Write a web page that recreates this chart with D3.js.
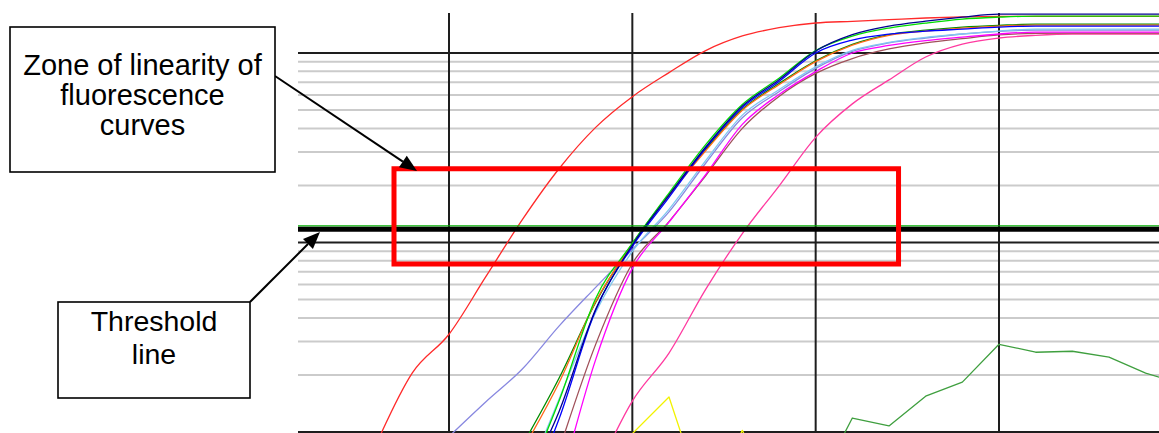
<!DOCTYPE html>
<html>
<head>
<meta charset="utf-8">
<script src="https://cdn.jsdelivr.net/npm/d3@7"></script>
<style>
  html, body { margin: 0; padding: 0; background: #fff; }
  svg { display: block; }
  text { font-family: "Liberation Sans", Arial, sans-serif; }
</style>
</head>
<body>
<svg id="chart" width="1159" height="433"></svg>
<script>
// ---------- DATA ----------
const cycles = [6,7,8,9,10,11,12,13,14,15,16,17,18,19,20,21,22,23,24,25,26,27,28,29,30];
const gridCycles = [10, 15, 20, 25];
const decadeTicks = [0.01, 0.1, 1];
const minorTicks = [0.02,0.03,0.04,0.05,0.06,0.07,0.08,0.09,0.2,0.3,0.4,0.5,0.6,0.7,0.8,0.9];
const thresholdValue = 0.1175;
const zoneCycles = [8.5, 22.26];
const zoneValues = [0.077, 0.245];

const _ = null;
const redSample      = [_,_,0.0085,0.0205,0.0328,0.0658,0.132,0.245,0.405,0.588,0.788,1.03,1.23,1.36,1.44,1.47,1.50,1.53,1.55,1.56,1.56,1.56,1.56,1.56,1.56];
const lavenderSample = [_,_,_,_,0.00946,0.0144,0.0215,0.0362,0.058,0.092,0.145,0.262,0.455,0.625,0.83,1.02,1.13,1.2,1.26,1.30,1.32,1.32,1.32,1.32,1.32];
const greenSample    = [_,_,_,_,_,_,0.005,0.01456,0.0507,0.0988,0.1824,0.3287,0.535,0.735,1.03,1.228,1.354,1.438,1.51,1.546,1.566,1.566,1.566,1.566,1.566];
const navySample     = [_,_,_,_,_,_,0.005,0.0128,0.0444,0.097,0.1776,0.319,0.525,0.723,1.025,1.25,1.387,1.473,1.546,1.604,1.604,1.604,1.604,1.604,1.604];
const blueSample     = [_,_,_,_,_,_,0.004,0.0117,0.0439,0.0952,0.173,0.314,0.515,0.708,1.0,1.17,1.259,1.305,1.337,1.37,1.387,1.387,1.387,1.387,1.387];
const orangeSample   = [_,_,_,_,_,_,0.008,0.0182,0.0488,0.098,0.177,0.305,0.499,0.680,0.900,1.099,1.239,1.305,1.354,1.387,1.404,1.404,1.404,1.404,1.404];
const darkGreenSample= [_,_,_,_,_,_,0.0085,0.0192,0.0483,0.099,0.179,0.31,0.505,0.69,0.91,1.11,1.25,1.32,1.37,1.40,1.42,1.42,1.42,1.42,1.42];
const lightBlueSample= [_,_,_,_,_,_,0.005,0.0149,0.0428,0.0897,0.1497,0.2705,0.470,0.64,0.845,1.033,1.137,1.21,1.26,1.305,1.337,1.337,1.337,1.337,1.337];
const magentaSample  = [_,_,_,_,_,_,_,0.005,0.0241,0.073,0.128,0.228,0.42,0.604,0.798,1.0,1.096,1.163,1.213,1.26,1.29,1.29,1.29,1.29,1.29];
const brownSample    = [_,_,_,_,_,_,_,0.008,0.029,0.0775,0.129,0.225,0.40,0.59,0.78,0.935,1.05,1.13,1.19,1.245,1.27,1.274,1.274,1.274,1.274];
const pinkSample     = [_,_,_,_,_,_,_,_,0.006,0.01456,0.0261,0.0566,0.1115,0.1986,0.359,0.539,0.721,0.953,1.115,1.20,1.24,1.26,1.26,1.26,1.26];
const yellowSample   = [_,_,_,_,_,_,_,_,_,0.0098,0.0153,0.004,0.0102,0.004,_,_,_,_,_,_,_,_,_,_,_];
const noiseSample    = [_,_,_,_,_,_,_,_,_,_,_,_,_,_,0.005,0.01185,0.01076,0.01546,0.01833,0.02904,0.02636,0.02668,0.02483,0.02046,0.0179];

const series = [
  { name: "red",       values: redSample,       color: "#ff2a2a", smooth: true },
  { name: "lavender",  values: lavenderSample,  color: "#8888e0", smooth: true },
  { name: "yellow",    values: yellowSample,    color: "#f2f200", smooth: false },
  { name: "noise",     values: noiseSample,     color: "#3f9f3f", smooth: false },
  { name: "pink",      values: pinkSample,      color: "#ff3aa0", smooth: true },
  { name: "brown",     values: brownSample,     color: "#a0505a", smooth: true },
  { name: "magenta",   values: magentaSample,   color: "#ff00ff", smooth: true },
  { name: "lightblue", values: lightBlueSample, color: "#80c8f0", smooth: true },
  { name: "darkgreen", values: darkGreenSample, color: "#008c00", smooth: true },
  { name: "orange",    values: orangeSample,    color: "#ff6a1a", smooth: true },
  { name: "blue",      values: blueSample,      color: "#0000ff", smooth: true },
  { name: "green",     values: greenSample,     color: "#00dd00", smooth: true },
  { name: "navy",      values: navySample,      color: "#000090", smooth: true }
];

// ---------- LAYOUT ----------
const W = 1159, H = 433;
const plot = { left: 298, right: 1159, top: 13, bottom: 432 };

const x = d3.scaleLinear().domain([10, 25]).range([449, 999]);
const y = d3.scaleLog().domain([0.01, 1]).range([432, 53]);

const svg = d3.select("#chart");

svg.append("defs").append("clipPath").attr("id", "plotClip")
  .append("rect")
  .attr("x", plot.left).attr("y", 0)
  .attr("width", plot.right - plot.left).attr("height", plot.bottom + 1);

// grid: minor (grey)
const grid = svg.append("g");
grid.selectAll("line.minor").data(minorTicks).join("line")
  .attr("class", "minor")
  .attr("x1", plot.left).attr("x2", plot.right)
  .attr("y1", d => y(d)).attr("y2", d => y(d))
  .attr("stroke", "#cbcbcb").attr("stroke-width", 2);

// grid: decades (black)
grid.selectAll("line.major").data(decadeTicks).join("line")
  .attr("class", "major")
  .attr("x1", plot.left).attr("x2", plot.right)
  .attr("y1", d => y(d)).attr("y2", d => y(d))
  .attr("stroke", "#1e1e1e").attr("stroke-width", 2);

// vertical grid
grid.selectAll("line.vert").data(gridCycles).join("line")
  .attr("class", "vert")
  .attr("x1", d => x(d)).attr("x2", d => x(d))
  .attr("y1", plot.top).attr("y2", plot.bottom)
  .attr("stroke", "#1e1e1e").attr("stroke-width", 2);

// curves
const smoothLine = d3.line()
  .defined(d => d.v != null)
  .x(d => x(d.c))
  .y(d => y(d.v))
  .curve(d3.curveMonotoneX);
const straightLine = d3.line()
  .defined(d => d.v != null)
  .x(d => x(d.c))
  .y(d => y(d.v));

const curves = svg.append("g").attr("clip-path", "url(#plotClip)");
curves.selectAll("path").data(series).join("path")
  .attr("d", s => (s.smooth ? smoothLine : straightLine)(cycles.map((c, i) => ({ c, v: s.values[i] }))))
  .attr("fill", "none")
  .attr("stroke", s => s.color)
  .attr("stroke-width", 1.3)
  .attr("stroke-linejoin", "round");

// threshold line (software green line + thick black annotation line)
const ty = y(thresholdValue);
svg.append("line")
  .attr("x1", plot.left).attr("x2", plot.right)
  .attr("y1", ty - 3.3).attr("y2", ty - 3.3)
  .attr("stroke", "#00b000").attr("stroke-width", 1.2);
svg.append("line")
  .attr("x1", plot.left).attr("x2", plot.right)
  .attr("y1", ty).attr("y2", ty)
  .attr("stroke", "#000").attr("stroke-width", 5);

// zone of linearity rectangle
svg.append("rect")
  .attr("x", x(zoneCycles[0]))
  .attr("y", y(zoneValues[1]))
  .attr("width", x(zoneCycles[1]) - x(zoneCycles[0]))
  .attr("height", y(zoneValues[0]) - y(zoneValues[1]))
  .attr("fill", "none")
  .attr("stroke", "#ff0000")
  .attr("stroke-width", 5);

// ---------- ANNOTATIONS ----------
function arrow(x1, y1, x2, y2) {
  const ang = Math.atan2(y2 - y1, x2 - x1);
  const len = 17, half = 7;
  const bx = x2 - len * Math.cos(ang), by = y2 - len * Math.sin(ang);
  svg.append("line")
    .attr("x1", x1).attr("y1", y1).attr("x2", bx).attr("y2", by)
    .attr("stroke", "#000").attr("stroke-width", 2);
  const px = -Math.sin(ang) * half, py = Math.cos(ang) * half;
  svg.append("path")
    .attr("d", `M${x2},${y2}L${bx + px},${by + py}L${bx - px},${by - py}Z`)
    .attr("fill", "#000");
}

function box(x0, y0, w, h, lines, baselines, size) {
  svg.append("rect")
    .attr("x", x0).attr("y", y0).attr("width", w).attr("height", h)
    .attr("fill", "#fff").attr("stroke", "#000").attr("stroke-width", 1.6);
  lines.forEach((t, i) => {
    svg.append("text")
      .attr("x", x0 + w / 2).attr("y", baselines[i])
      .attr("text-anchor", "middle")
      .attr("font-size", size)
      .attr("fill", "#000")
      .text(t);
  });
}

arrow(275, 76, 417, 171);
arrow(250, 302, 320, 232);

box(10, 27, 265, 145, ["Zone of linearity of", "fluorescence", "curves"], [75, 105, 135], 29);
box(58, 302, 192, 96, ["Threshold", "line"], [331, 364], 28.5);
</script>
</body>
</html>
